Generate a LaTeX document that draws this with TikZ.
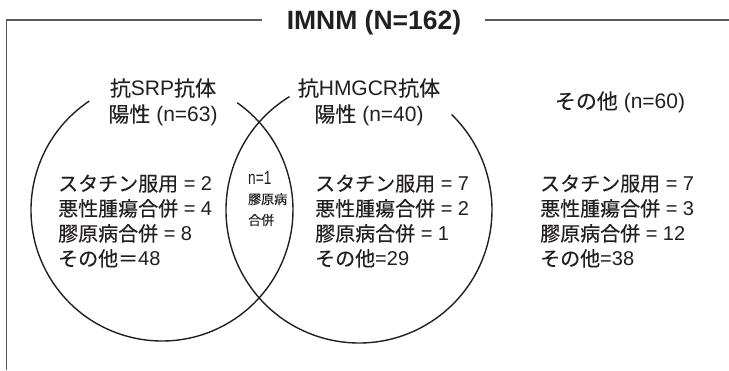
\documentclass[tikz,border=0pt]{standalone}
\usepackage{fontspec}
\setmainfont{Liberation Sans}
\newfontfamily\cjk[RawFeature={embolden=0.3}]{Noto Sans CJK JP}
\newcommand\jp[1]{{\cjk #1}}
\definecolor{ink}{HTML}{231F20}
\definecolor{framegray}{HTML}{58595B}
\begin{document}
\begin{tikzpicture}[x=1pt,y=1pt,
  frameline/.style={draw=framegray, line width=1.5pt},
  vennline/.style={draw=ink, line width=1.4pt},
  titlebox/.style={inner sep=0pt, text=ink, anchor=base, font=\fontsize{26.5}{30}\selectfont\bfseries},
  headlbl/.style={inner sep=0pt, text=ink, anchor=base, font=\fontsize{21}{25}\selectfont},
  bodyline/.style={inner sep=0pt, text=ink, anchor=base west, font=\fontsize{20}{24}\selectfont},
  smallnum/.style={inner sep=0pt, text=ink, anchor=base west, font=\fontsize{19}{22}\selectfont},
  smalljp/.style={inner sep=0pt, text=ink, anchor=base west, font=\fontsize{13}{16}\selectfont},
]
\useasboundingbox (0,0) rectangle (729,370);

% frame
\node[titlebox] (title) at (374,340) {IMNM (N=162)};
\coordinate (bl) at (6.5,0);
\coordinate (tl) at (6.5,350);
\coordinate (tlend) at (262,350);
\coordinate (trstart) at (485,350);
\coordinate (tr) at (729,350);
\draw[frameline] (bl) -- (tl) -- (tlend);
\draw[frameline] (trstart) -- (tr);

% venn circles
\coordinate (cL) at (162,160);
\coordinate (cR) at (359,160);
\draw[vennline] ([shift={(123.7:131)}]cL) arc[start angle=123.7, end angle=415, radius=131];
\draw[vennline] ([shift={(121.5:133)}]cR) arc[start angle=121.5, end angle=405.9, radius=133];

% headers
\node[headlbl] (srp1) at (163,274) {\jp{抗}SRP\jp{抗体}};
\node[headlbl] (srp2) at (163,248) {\jp{陽性} (n=63)};
\node[headlbl] (hmg1) at (369,274) {\jp{抗}HMGCR\jp{抗体}};
\node[headlbl] (hmg2) at (369,248) {\jp{陽性} (n=40)};
\node[headlbl] (oth) at (620,261) {\jp{その他} (n=60)};

% left column
\node[bodyline] (l1) at (58,179) {\jp{スタチン服用} = 2};
\node[bodyline] (l2) at (58,154) {\jp{悪性腫瘍合併} = 4};
\node[bodyline] (l3) at (58,129) {\jp{膠原病合併} = 8};
\node[bodyline] (l4) at (58,104) {\jp{その他＝}48};

% middle overlap
\node[smallnum] (m1) at (248,185) {\scalebox{0.72}[1]{n=1}};
\node[smalljp] (m2) at (248,166) {\jp{膠原病}};
\node[smalljp] (m3) at (248,145) {\jp{合併}};

% middle column
\node[bodyline] (c1) at (315,179) {\jp{スタチン服用} = 7};
\node[bodyline] (c2) at (315,154) {\jp{悪性腫瘍合併} = 2};
\node[bodyline] (c3) at (315,129) {\jp{膠原病合併} = 1};
\node[bodyline] (c4) at (315,104) {\jp{その他}=29};

% right column
\node[bodyline] (r1) at (540,179) {\jp{スタチン服用} = 7};
\node[bodyline] (r2) at (540,154) {\jp{悪性腫瘍合併} = 3};
\node[bodyline] (r3) at (540,129) {\jp{膠原病合併} = 12};
\node[bodyline] (r4) at (540,104) {\jp{その他}=38};
\end{tikzpicture}
\end{document}
